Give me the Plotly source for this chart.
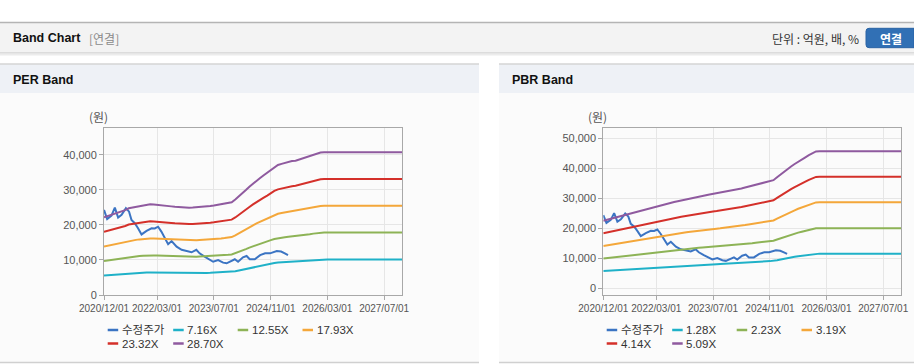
import plotly.graph_objects as go
import pandas as pd

W, H = 914, 364

# ---------------- data ----------------
months = pd.date_range("2020-12-01", "2027-12-01", freq="MS")

# EPS (원) underlying the PER band (monthly)
per_eps = [773, 785, 797, 808, 818, 830, 845, 863, 870, 878, 886, 893, 899, 902,
           900, 898, 895, 890, 886, 882, 878, 874, 871, 869,
           869, 870, 872, 875, 878, 882, 886, 891, 896, 902, 908, 915, 923,
           950, 980, 1010, 1045, 1078, 1110, 1140, 1165, 1192, 1218,
           1250, 1275, 1294, 1305, 1315, 1325, 1333, 1337, 1348, 1360, 1372, 1384, 1397, 1410, 1418,
           1420, 1420, 1420, 1420, 1420, 1420, 1420, 1420, 1420, 1420, 1420, 1420,
           1420, 1420, 1420, 1420, 1420, 1420, 1420, 1420, 1420, 1420, 1420]

# BPS (원) underlying the PBR band (monthly)
pbr_bps = [4400, 4465, 4530, 4590, 4650, 4715, 4780, 4845, 4912,
           4975, 5035, 5095, 5160, 5220, 5280, 5340, 5400, 5460, 5521,
           5575, 5630, 5680, 5735, 5790, 5840, 5895, 5950, 6000,
           6040, 6080, 6120, 6160, 6200, 6240, 6280, 6320, 6360, 6400,
           6460, 6520, 6580, 6640, 6700, 6760, 6820, 6880, 6940, 7000, 7060,
           7250, 7440, 7640, 7800, 7960, 8120, 8280, 8420, 8560, 8700, 8830, 8945,
           8950, 8950, 8950, 8950, 8950, 8950, 8950, 8950, 8950, 8950, 8950, 8950,
           8950, 8950, 8950, 8950, 8950, 8950, 8950, 8950, 8950, 8950, 8950, 8950]

per_multiples = [7.16, 12.55, 17.93, 23.32, 28.70]
per_labels = ["7.16X", "12.55X", "17.93X", "23.32X", "28.70X"]
pbr_multiples = [1.28, 2.23, 3.19, 4.14, 5.09]
pbr_labels = ["1.28X", "2.23X", "3.19X", "4.14X", "5.09X"]

price_name = "수정주가"
price_dates = ["2020-12-01", "2020-12-28", "2021-02-03", "2021-03-04", "2021-04-01",
               "2021-05-01", "2021-06-07", "2021-07-04", "2021-07-25", "2021-08-22",
               "2021-09-19", "2021-10-19", "2021-12-01", "2022-01-13", "2022-02-10",
               "2022-03-10", "2022-04-07", "2022-05-07", "2022-06-04", "2022-07-04",
               "2022-08-16", "2022-09-28", "2022-11-16", "2022-12-22", "2023-02-01",
               "2023-03-01", "2023-04-13", "2023-05-28", "2023-06-25", "2023-08-07",
               "2023-09-19", "2023-10-19", "2023-12-01", "2023-12-28", "2024-01-25",
               "2024-03-07", "2024-04-07", "2024-05-04", "2024-06-16", "2024-08-01",
               "2024-09-13", "2024-10-25", "2024-12-22", "2025-01-28", "2025-03-01",
               "2025-03-28"]
price_values = [24300, 21700, 22700, 24950, 22100,
                22900, 24800, 23800, 21400, 20500,
                19050, 17300, 18300, 19050, 19000,
                19500, 18100, 16200, 14500, 15400,
                13800, 12900, 12600, 12200, 12900,
                11900, 10950, 10200, 9500, 10000,
                9250, 9050, 9800, 10200, 9500,
                10750, 11150, 10200, 10200, 11400,
                11900, 11900, 12550, 12400, 11900,
                11400]

tick_dates = ["2020-12-01", "2022-03-01", "2023-07-01", "2024-11-01", "2026-03-01", "2027-07-01"]
tick_text = ["2020/12/01", "2022/03/01", "2023/07/01", "2024/11/01", "2026/03/01", "2027/07/01"]

price_color = "#3b74c3"
band_colors = ["#1fb1c8", "#8db356", "#f4a73a", "#d4302a", "#8f5a9f"]

FONT = "Liberation Sans, Noto Sans CJK KR, sans-serif"
KFONT = "Noto Sans CJK KR, Liberation Sans, sans-serif"


def fx(x):
    return x / W


def fy(y):
    return 1 - y / H


fig = go.Figure()

# PER panel traces
fig.add_trace(go.Scatter(x=price_dates, y=price_values, mode="lines", name=price_name,
                         line=dict(color=price_color, width=2), xaxis="x", yaxis="y"))
for m, lab, c in zip(per_multiples, per_labels, band_colors):
    fig.add_trace(go.Scatter(x=months, y=[round(e * m) for e in per_eps], mode="lines", name=lab,
                             line=dict(color=c, width=2), xaxis="x", yaxis="y"))

# PBR panel traces
fig.add_trace(go.Scatter(x=price_dates, y=price_values, mode="lines", name=price_name,
                         line=dict(color=price_color, width=2), xaxis="x2", yaxis="y2"))
for m, lab, c in zip(pbr_multiples, pbr_labels, band_colors):
    fig.add_trace(go.Scatter(x=months, y=[round(b * m) for b in pbr_bps], mode="lines", name=lab,
                             line=dict(color=c, width=2), xaxis="x2", yaxis="y2"))

ydom = [fy(295), fy(128)]
common_x = dict(type="date", range=["2020-12-01", "2027-12-01"], tickvals=tick_dates, ticktext=tick_text,
                tickangle=0, automargin=False,
                showgrid=True, gridcolor="#e6e6e6", gridwidth=1, showline=True, linecolor="#a8a8a8",
                linewidth=1, mirror=True, ticks="outside", ticklen=4, tickcolor="#a8a8a8",
                tickfont=dict(family=FONT, size=10, color="#555555"), zeroline=False, fixedrange=True)
common_y = dict(showgrid=True, gridcolor="#e6e6e6", gridwidth=1, showline=True, linecolor="#a8a8a8",
                linewidth=1, mirror=True, ticks="outside", ticklen=4, tickcolor="#a8a8a8",
                tickformat=",", tickfont=dict(family=FONT, size=11, color="#555555"),
                zeroline=False, fixedrange=True, automargin=False)

fig.update_layout(
    width=W, height=H, autosize=False,
    margin=dict(l=0, r=0, t=0, b=0, pad=0, autoexpand=False),
    paper_bgcolor="white", plot_bgcolor="white",
    showlegend=False,
    xaxis=dict(domain=[fx(104), fx(402)], anchor="y", **common_x),
    yaxis=dict(domain=ydom, anchor="x", range=[0, 47700],
               tickvals=[0, 10000, 20000, 30000, 40000], **common_y),
    xaxis2=dict(domain=[fx(603.3), fx(901)], anchor="y2", **common_x),
    yaxis2=dict(domain=ydom, anchor="x2", range=[-2333, 53333],
                tickvals=[0, 10000, 20000, 30000, 40000, 50000], **common_y),
)

shapes = []
ann = []

# top header bar
shapes.append(dict(type="rect", xref="paper", yref="paper", x0=0, x1=1, y0=fy(53), y1=fy(22),
                   fillcolor="#f3f3f3", line=dict(width=0), layer="below"))
shapes.append(dict(type="line", xref="paper", yref="paper", x0=0, x1=1, y0=fy(22.5), y1=fy(22.5),
                   line=dict(color="#b4b4b4", width=1.5), layer="below"))
shapes.append(dict(type="line", xref="paper", yref="paper", x0=0, x1=1, y0=fy(53), y1=fy(53),
                   line=dict(color="#c4c4c4", width=1), layer="below"))
shapes.append(dict(type="line", xref="paper", yref="paper", x0=0, x1=1, y0=fy(54.5), y1=fy(54.5),
                   line=dict(color="#ececec", width=2), layer="below"))

# panels
for (a, b) in [(0, 479), (499, 914)]:
    shapes.append(dict(type="rect", xref="paper", yref="paper", x0=fx(a), x1=fx(b), y0=fy(362), y1=fy(93),
                       fillcolor="#fbfbfb", line=dict(width=0), layer="below"))
    shapes.append(dict(type="rect", xref="paper", yref="paper", x0=fx(a), x1=fx(b), y0=fy(93), y1=fy(64),
                       fillcolor="#eef1f6", line=dict(width=0), layer="below"))
    shapes.append(dict(type="line", xref="paper", yref="paper", x0=fx(a), x1=fx(b), y0=fy(64), y1=fy(64),
                       line=dict(color="#d4d4d4", width=1.5), layer="below"))
    shapes.append(dict(type="line", xref="paper", yref="paper", x0=fx(a), x1=fx(b), y0=fy(362.5), y1=fy(362.5),
                       line=dict(color="#d0d0d0", width=1.5), layer="below"))

# button (rounded rect, running to the right edge)
bx0, bx1, by0, by1, r = 866, 914, 28.3, 47.7, 3
path = (f"M {fx(bx0 + r)} {fy(by0)} L {fx(bx1)} {fy(by0)} L {fx(bx1)} {fy(by1)} "
        f"L {fx(bx0 + r)} {fy(by1)} Q {fx(bx0)} {fy(by1)} {fx(bx0)} {fy(by1 - r)} "
        f"L {fx(bx0)} {fy(by0 + r)} Q {fx(bx0)} {fy(by0)} {fx(bx0 + r)} {fy(by0)} Z")
shapes.append(dict(type="path", xref="paper", yref="paper", path=path,
                   fillcolor="#3170b5", line=dict(color="#2a63a4", width=1), layer="above"))

ann.append(dict(x=fx(11), y=fy(38.5), xref="paper", yref="paper", xanchor="left", yanchor="middle",
                text="<b>Band Chart</b>", showarrow=False, font=dict(family=FONT, size=12.5, color="#111111")))
ann.append(dict(x=fx(87), y=fy(38.5), xref="paper", yref="paper", xanchor="left", yanchor="middle",
                text="[연결]", showarrow=False, font=dict(family=KFONT, size=12, color="#8a8a8a")))
ann.append(dict(x=fx(861), y=fy(39), xref="paper", yref="paper", xanchor="right", yanchor="middle",
                text="단위 : 억원, 배, %", showarrow=False, font=dict(family=KFONT, size=12, color="#333333")))
ann.append(dict(x=fx(891), y=fy(38.5), xref="paper", yref="paper", xanchor="center", yanchor="middle",
                text="<b>연결</b>", showarrow=False, font=dict(family=KFONT, size=12, color="white")))
ann.append(dict(x=fx(11), y=fy(80), xref="paper", yref="paper", xanchor="left", yanchor="middle",
                text="<b>PER Band</b>", showarrow=False, font=dict(family=FONT, size=12.5, color="#111111")))
ann.append(dict(x=fx(510), y=fy(80), xref="paper", yref="paper", xanchor="left", yanchor="middle",
                text="<b>PBR Band</b>", showarrow=False, font=dict(family=FONT, size=12.5, color="#111111")))
ann.append(dict(x=fx(87), y=fy(117), xref="paper", yref="paper", xanchor="left", yanchor="middle",
                text="(원)", showarrow=False, font=dict(family=KFONT, size=12, color="#555555")))
ann.append(dict(x=fx(586), y=fy(117), xref="paper", yref="paper", xanchor="left", yanchor="middle",
                text="(원)", showarrow=False, font=dict(family=KFONT, size=12, color="#555555")))

# legends (manual, short line samples like the original)
col_off = [0, 65.5, 130, 194.8]
for x0, labels in [(107.7, per_labels), (606.7, pbr_labels)]:
    names = [price_name] + labels
    cols = [price_color] + band_colors
    for i, (nm, c) in enumerate(zip(names, cols)):
        row, col = divmod(i, 4)
        lx = x0 + col_off[col]
        ly = 330 + row * 13.5
        shapes.append(dict(type="line", xref="paper", yref="paper", x0=fx(lx), x1=fx(lx + 10.5),
                           y0=fy(ly), y1=fy(ly), line=dict(color=c, width=2.5), layer="above"))
        ann.append(dict(x=fx(lx + 12), y=fy(ly), xref="paper", yref="paper", xanchor="left",
                        yanchor="middle", text=nm, showarrow=False,
                        font=dict(family=FONT, size=11.5, color="#333333")))

fig.update_layout(shapes=shapes, annotations=ann)
fig.write_html("out.html", config={"displayModeBar": False},
               post_script="document.body.style.margin='0px';document.body.style.overflow='hidden';")
